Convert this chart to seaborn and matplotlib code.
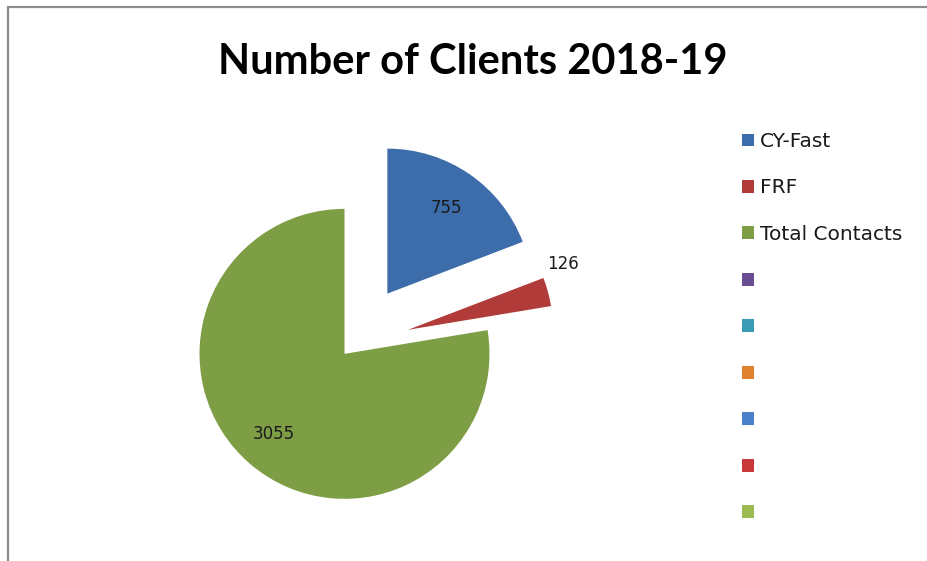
import numpy as np
import matplotlib
matplotlib.use("Agg")
import matplotlib.pyplot as plt
import seaborn as sns
from matplotlib.patches import Patch, Rectangle

# chart data
categories = ["CY-Fast", "FRF", "Total Contacts"]
values = [755, 126, 3055]
legend_labels = ["CY-Fast", "FRF", "Total Contacts", "", "", "", "", "", ""]
title = "Number of Clients 2018-19"

slice_colors = ["#3D6CAA", "#B03B39", "#7E9E46"]
legend_colors = slice_colors + ["#6A4C93", "#3B9BB5", "#E08130", "#4A80C8", "#C7393B", "#9BBB50"]
explode = [0.43, 0.40, 0.08]

sns.set_theme(style="white")
plt.rcParams["font.family"] = ["Lato", "DejaVu Sans"]

W, H = 928, 561
fig = plt.figure(figsize=(W / 100, H / 100), dpi=100)

# outer chart frame (only top/left visible in the reference)
fig.patches.append(Rectangle((8.5 / W, -0.05), 1.2, (H - 6.5) / H + 0.05,
                             transform=fig.transFigure, fill=False,
                             edgecolor="#8c8c8c", linewidth=1.6))

# pie axes: radius 1 == 145 px, centre at (352, 345) px
R, cx, cy = 145.0, 352.0, 345.0
x0, x1, ytop, ybot = 150, 600, 110, 530
ax = fig.add_axes([x0 / W, (H - ybot) / H, (x1 - x0) / W, (ybot - ytop) / H])
wedges, _ = ax.pie(values, colors=slice_colors, explode=explode, startangle=90,
                   counterclock=False, radius=1.0,
                   wedgeprops=dict(linewidth=0))
ax.set_xlim((x0 - cx) / R, (x1 - cx) / R)
ax.set_ylim((cy - ybot) / R, (cy - ytop) / R)
ax.set_aspect("equal")
ax.axis("off")

# value labels: inside for big slices, outside for the thin one
label_pos = [(0.72, 0.0, "center"), (1.06, 10.0, "left"), (0.74, -1.0, "center")]
for w, v, (dist, dtheta, ha) in zip(wedges, values, label_pos):
    mid = np.deg2rad((w.theta1 + w.theta2) / 2 + dtheta)
    ccx, ccy = w.center
    ax.text(ccx + dist * np.cos(mid), ccy + dist * np.sin(mid), str(v),
            ha=ha, va="center", fontsize=12, color="#1a1a1a",
            family=["DejaVu Sans"])

fig.text(473 / W, 1 - 62 / H, title, ha="center", va="center",
         fontsize=30, fontweight="bold", color="black")

handles = [Patch(facecolor=c, edgecolor="none") for c in legend_colors]
fig.legend(handles, legend_labels, loc="upper left",
           bbox_to_anchor=(742 / W, 1 - 132 / H), frameon=False,
           prop=dict(family="DejaVu Sans", size=14.5),
           handlelength=0.6, handleheight=0.6,
           handletextpad=0.3, labelspacing=1.365, borderpad=0, borderaxespad=0,
           labelcolor="#1a1a1a")

fig.savefig("out.png", dpi=100)
